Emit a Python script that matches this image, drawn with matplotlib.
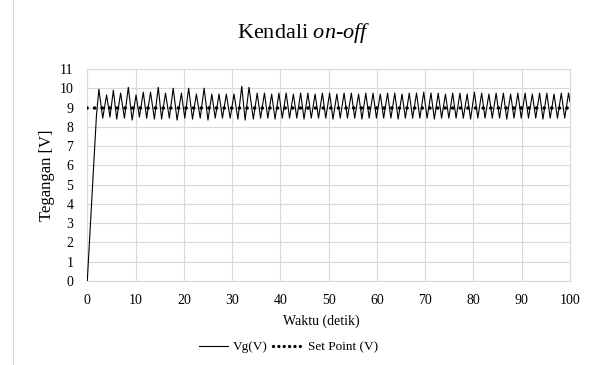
import numpy as np
import matplotlib.pyplot as plt
from matplotlib.lines import Line2D

plt.rcParams['font.family'] = ['Liberation Serif', 'DejaVu Serif']
plt.rcParams['mathtext.fontset'] = 'custom'
plt.rcParams['mathtext.rm'] = 'Liberation Serif'
plt.rcParams['mathtext.it'] = 'Liberation Serif:italic'

# Rise from zero to the first overshoot
rise_t = [0.0, 1.9]
rise_v = [0.0, 8.6]

# Peaks of the oscillation (time in s, voltage in V)
peak_t = [2.4, 4.0, 5.4, 6.9, 8.5, 10.1, 11.6, 13.1, 14.7, 16.2, 17.8, 19.5,
          21.0, 22.6, 24.2, 25.8, 27.3, 28.8, 30.4, 32.0, 33.5, 35.2,
          36.7, 38.2, 39.7, 41.2, 42.7, 44.2, 45.7, 47.2, 48.7, 50.2, 51.7,
          53.2, 54.7, 56.2, 57.7, 59.2, 60.7, 62.2, 63.7, 65.2, 66.7, 68.2,
          69.7, 71.2, 72.7, 74.2, 75.7, 77.2, 78.7, 80.2, 81.7, 83.2, 84.7,
          86.2, 87.7, 89.2, 90.7, 92.2, 93.7, 95.2, 96.7, 98.2, 99.7]
peak_v = [9.95, 9.65, 9.9, 9.75, 10.05, 9.65, 9.8, 9.8, 10.05, 9.75, 10.0, 9.75,
          10.0, 9.7, 10.0, 9.7, 9.7, 9.7, 9.7, 10.1, 10.05, 9.75,
          9.75, 9.7, 9.75, 9.75, 9.7, 9.75, 9.75, 9.7, 9.75, 9.75, 9.7,
          9.75, 9.75, 9.7, 9.75, 9.75, 9.7, 9.75, 9.75, 9.7, 9.75, 9.75,
          9.8, 9.75, 9.75, 9.7, 9.75, 9.75, 9.7, 9.8, 9.75, 9.7, 9.75,
          9.75, 9.7, 9.75, 9.75, 9.7, 9.75, 9.75, 9.7, 9.75, 9.75]

# Troughs of the oscillation
trough_t = [3.2, 4.7, 6.1, 7.7, 9.3, 10.8, 12.3, 13.9, 15.4, 17.0, 18.6, 20.2,
            21.8, 23.4, 25.0, 26.5, 28.0, 29.6, 31.2, 32.7, 34.4,
            35.9, 37.4, 38.9, 40.4, 41.9, 43.4, 44.9, 46.4, 47.9, 49.4, 50.9,
            52.4, 53.9, 55.4, 56.9, 58.4, 59.9, 61.4, 62.9, 64.4, 65.9, 67.4,
            68.9, 70.4, 71.9, 73.4, 74.9, 76.4, 77.9, 79.4, 80.9, 82.4, 83.9,
            85.4, 86.9, 88.4, 89.9, 91.4, 92.9, 94.4, 95.9, 97.4, 98.9, 100.0]
trough_v = [8.45, 8.5, 8.4, 8.45, 8.35, 8.5, 8.45, 8.4, 8.4, 8.45, 8.35, 8.45,
            8.4, 8.45, 8.35, 8.45, 8.45, 8.45, 8.4, 8.35, 8.4,
            8.45, 8.45, 8.4, 8.45, 8.45, 8.45, 8.4, 8.45, 8.45, 8.45, 8.4,
            8.45, 8.45, 8.45, 8.4, 8.45, 8.45, 8.45, 8.45, 8.4, 8.45, 8.45,
            8.45, 8.45, 8.4, 8.45, 8.45, 8.45, 8.45, 8.4, 8.45, 8.45, 8.45,
            8.45, 8.4, 8.45, 8.45, 8.45, 8.45, 8.4, 8.45, 8.45, 8.45, 9.3]

setpoint_t = [0, 100]
setpoint_v = [9, 9]

# merge rise, peaks and troughs in time order
t = np.array(rise_t + peak_t + trough_t)
v = np.array(rise_v + peak_v + trough_v)
order = np.argsort(t)
t, v = t[order], v[order]

fig = plt.figure(figsize=(5.93, 3.65), dpi=100)
ax = fig.add_axes([0.1472, 0.2301, 0.8140, 0.5809])

grid_c = '#d9d9d9'
ax.plot(t, v, color='black', lw=0.8, zorder=3)
ax.plot(setpoint_t, setpoint_v, color='black', lw=2.6,
        dashes=(0.01, 2.1), dash_capstyle='round', zorder=4)

ax.set_xlim(0, 100)
ax.set_ylim(0, 11)
ax.set_xticks(np.arange(0, 101, 10))
ax.set_yticks(np.arange(0, 12, 1))
ax.grid(True, color=grid_c, lw=0.8)
ax.set_axisbelow(True)
for s in ax.spines.values():
    s.set_color(grid_c)
    s.set_linewidth(0.8)
ax.tick_params(length=0, labelsize=10, colors='black')
ax.tick_params(axis='x', pad=9)
ax.tick_params(axis='y', pad=10)

fig.text(0.5126, 0.9096, 'Kendali $\\mathit{on}$-$\\mathit{off}$', ha='center', va='center', fontsize=16)
fig.text(0.0793, 0.5205, 'Tegangan [V]', rotation=90, ha='center', va='center', fontsize=12)
fig.text(0.5413, 0.1205, 'Waktu (detik)', ha='center', va='center', fontsize=10)

handles = [Line2D([], [], color='black', lw=0.8),
           Line2D([], [], color='black', lw=2.4, dashes=(0.01, 1.6), dash_capstyle='round')]
fig.legend(handles, ['Vg(V)', 'Set Point (V)'], loc='center', bbox_to_anchor=(0.486, 0.049),
           ncol=2, frameon=False, fontsize=9.5, handlelength=2.2, handletextpad=0.4,
           columnspacing=0.4)

fig.add_artist(Line2D([13 / 593, 13 / 593], [0, 1], color=grid_c, lw=0.8))

fig.savefig('out.png', dpi=100)
